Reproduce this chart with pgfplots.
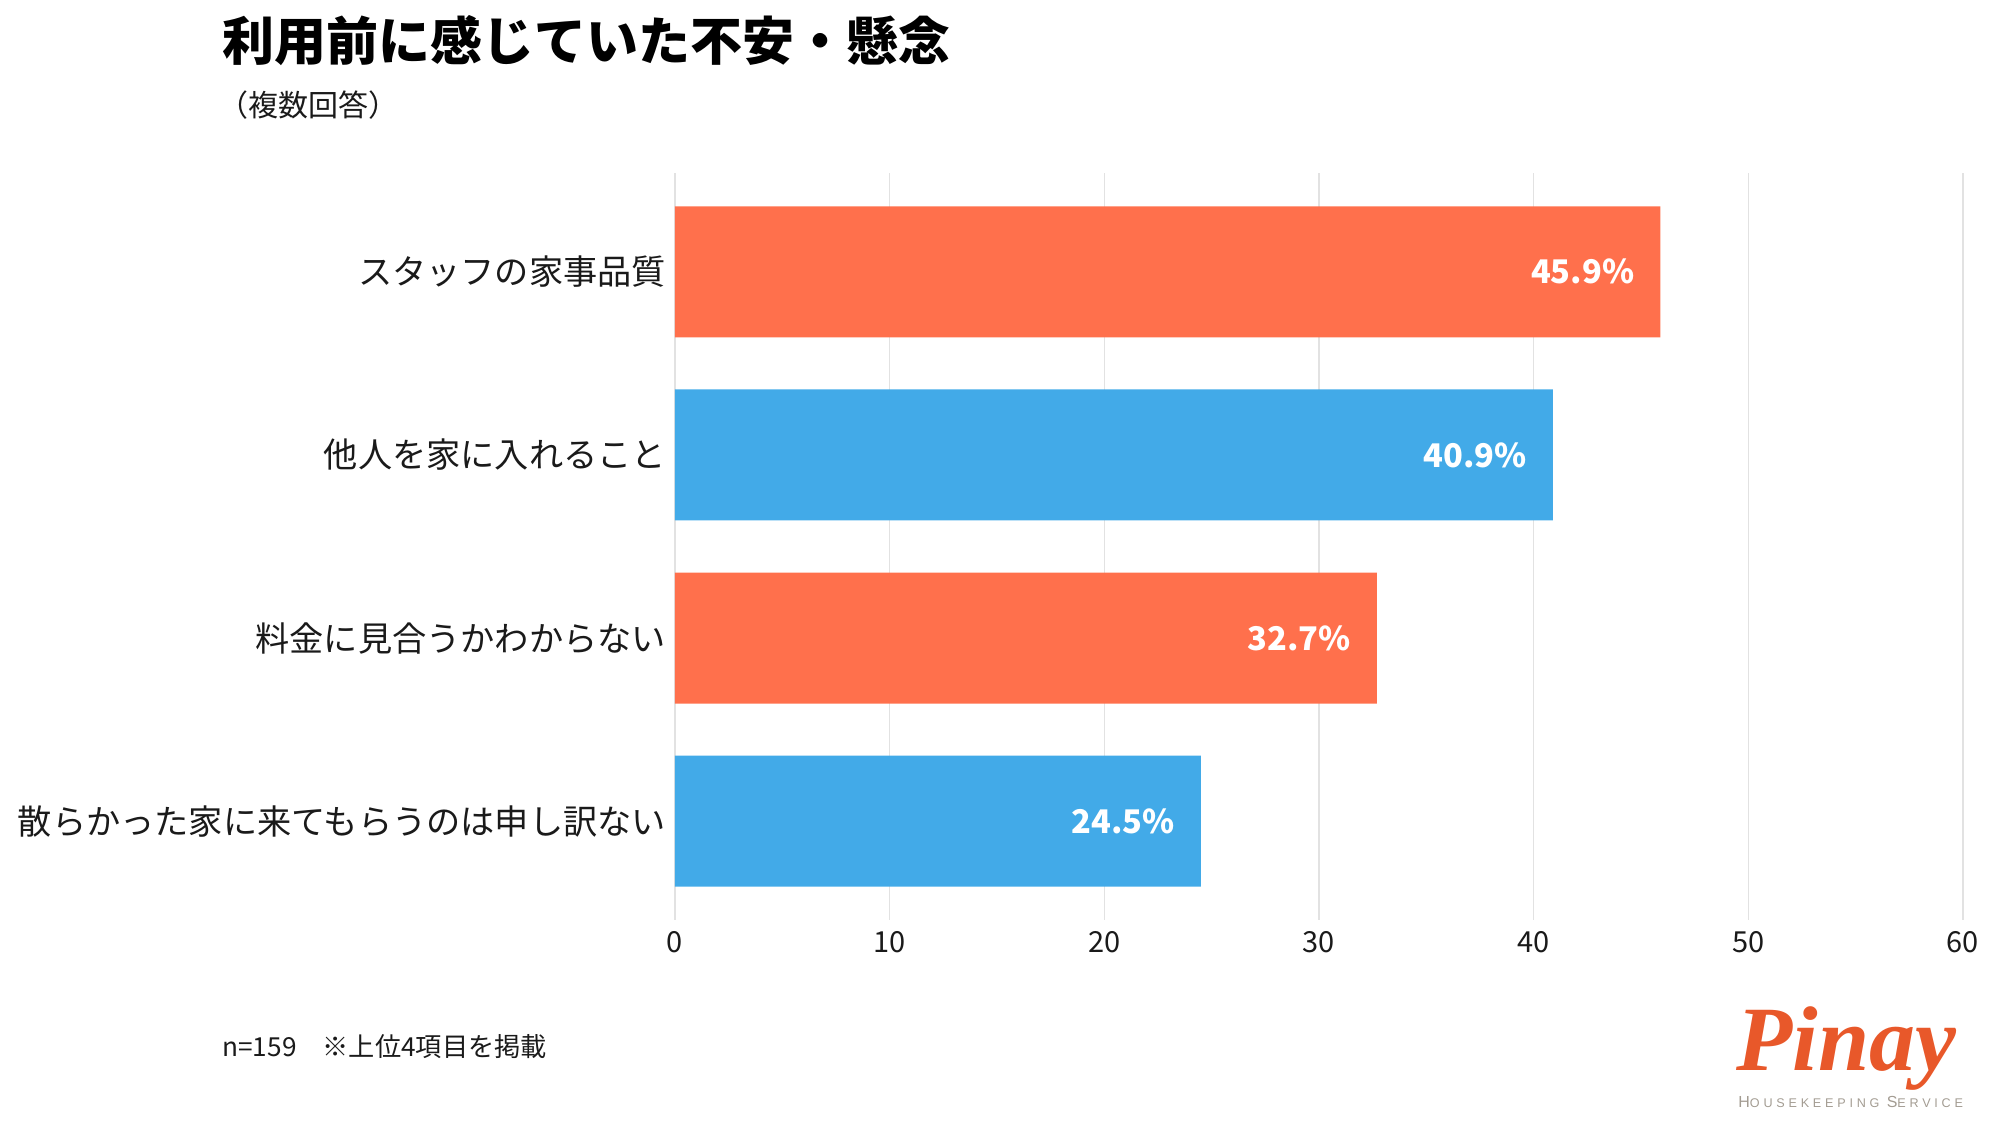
\documentclass[border=0pt]{standalone}
\usepackage{pgfplots}
\pgfplotsset{compat=1.18}
\usepackage{fontspec}
\setmainfont{Noto Sans CJK JP}
\newfontfamily\logoserif{Liberation Serif}
\newfontfamily\logosans[LetterSpace=30]{Liberation Sans}
\definecolor{barorange}{HTML}{FF704C}
\definecolor{barblue}{HTML}{42AAE8}
\definecolor{gridgray}{HTML}{E2E2E2}
\definecolor{txt}{HTML}{1A1A1A}
\definecolor{logoorange}{HTML}{E8582A}
\definecolor{logogray}{HTML}{A39C92}
\begin{document}
\begin{tikzpicture}
\useasboundingbox (0,0) rectangle (999.5pt,565.5pt);
\begin{axis}[
  at={(337.5pt,105.5pt)}, anchor=south west,
  scale only axis, width=644pt, height=373.5pt,
  xmin=0, xmax=60, ymin=-0.54, ymax=3.54,
  xbar, bar width=65.5pt, bar shift=0pt,
  axis line style={draw=none},
  xtick={0,10,...,60},
  xmajorgrids, grid style={gridgray, line width=0.8pt},
  major tick length=0pt,
  ytick={0,1,2,3},
  yticklabels={散らかった家に来てもらうのは申し訳ない,料金に見合うかわからない,他人を家に入れること,スタッフの家事品質},
  yticklabel style={font=\fontsize{17.1pt}{20pt}\selectfont, color=txt, xshift=-1pt},
  xticklabel style={font=\fontsize{14.5pt}{17pt}\selectfont, color=txt, yshift=-2pt},
  /pgf/number format/assume math mode=true,
  nodes near coords={\pgfmathprintnumber[fixed,precision=1,zerofill]{\pgfplotspointmeta}\%},
  every node near coord/.append style={anchor=east, xshift=-9.5pt, font=\bfseries\fontsize{16.3pt}{19pt}\selectfont, color=white},
  clip=false,
]
\addplot[draw=none, fill=barorange] coordinates {(45.9,3) (32.7,1)};
\addplot[draw=none, fill=barblue] coordinates {(40.9,2) (24.5,0)};
\end{axis}
\node[anchor=west, font=\bfseries\fontsize{26pt}{30pt}\selectfont, color=black, inner sep=0pt] at (111pt,545pt) {利用前に感じていた不安・懸念};
\node[anchor=west, font=\fontsize{15pt}{18pt}\selectfont, color=txt, inner sep=0pt] at (109pt,513pt) {（複数回答）};
\node[anchor=west, font=\fontsize{13.1pt}{16pt}\selectfont, color=txt, inner sep=0pt] at (111pt,42pt) {n=159\hspace{1em}※上位4項目を掲載};
\node[anchor=south west, inner sep=0pt, font=\logoserif\bfseries\itshape\fontsize{46pt}{50pt}\selectfont, color=logoorange] at (868pt,20pt) {Pinay};
\node[anchor=west, inner sep=0pt, color=logogray] at (869pt,14.5pt) {\logosans\fontsize{8pt}{9pt}\selectfont H\fontsize{6.3pt}{7pt}\selectfont OUSEKEEPING \fontsize{8pt}{9pt}\selectfont S\fontsize{6.3pt}{7pt}\selectfont ERVICE};
\end{tikzpicture}
\end{document}
